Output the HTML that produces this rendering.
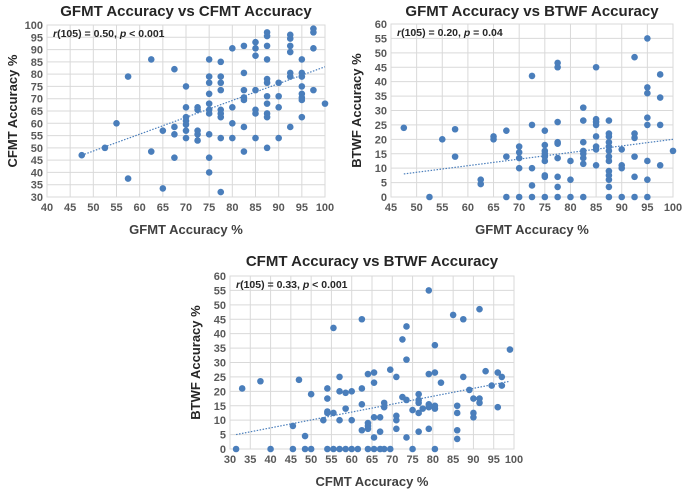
<!DOCTYPE html>
<html><head><meta charset="utf-8"><style>
body{margin:0;background:#fff;width:685px;height:492px;overflow:hidden;font-family:"Liberation Sans",sans-serif}
svg text{font-family:"Liberation Sans",sans-serif}
</style></head><body>
<svg id="s" width="685" height="492"></svg>
<script>
const c1x=[47.5,52.5,55,57.5,57.5,62.5,62.5,65,65,67.5,67.5,67.5,67.5,70,70,70,70,70,70,70,72.5,72.5,72.5,72.5,72.5,75,75,75,75,75,75,75,75,75,75,77.5,77.5,77.5,77.5,77.5,77.5,77.5,77.5,77.5,80,80,80,80,82.5,82.5,82.5,82.5,82.5,82.5,82.5,85,85,85,85,85,85,85,87.5,87.5,87.5,87.5,87.5,87.5,87.5,87.5,87.5,87.5,87.5,90,90,90,90,92.5,92.5,92.5,92.5,92.5,92.5,92.5,95,95,95,95,95,95,95,95,97.5,97.5,97.5,97.5,100];
const c1y=[47,50,60,79,37.5,86,48.5,57,33.5,82,58.5,55.5,46,75,66.5,62.5,61,59.5,57,54,66.5,65.5,57,55.5,53,86,79,76.5,72,68,65.5,64,55.5,46,40,85,79,76.5,73.5,65.5,64,62.5,54,32,90.5,66.5,60,54,91.5,80.5,73.5,70.5,69.5,58.5,48.5,93,90.5,87.5,73.5,65.5,64,54,97,95.5,91.5,86,78,76.5,71,68,64,62.5,50,76.5,71,66.5,54,96,94.5,91.5,89,80.5,79,58.5,86,80.5,79,75,72,70.5,69.5,62.5,98.5,97,90.5,73.5,68];
const c2x=[47.5,52.5,55,57.5,57.5,62.5,62.5,65,65,67.5,67.5,67.5,70,70,70,70,70,72.5,72.5,72.5,72.5,72.5,75,75,75,75,75,75,75,75,75,77.5,77.5,77.5,77.5,77.5,77.5,77.5,77.5,77.5,80,80,80,82.5,82.5,82.5,82.5,82.5,82.5,82.5,82.5,85,85,85,85,85,85,85,85,87.5,87.5,87.5,87.5,87.5,87.5,87.5,87.5,87.5,87.5,87.5,87.5,87.5,90,90,90,90,92.5,92.5,92.5,92.5,92.5,92.5,95,95,95,95,95,95,95,95,97.5,97.5,97.5,97.5,100];
const c2y=[24,0,20,23.5,14,6,4.5,21,20,23,14,0,17.5,15.5,13.5,10,0,42,25,10,4,0,23,18,16,15,14,12.5,7.5,7,0,46.5,45,26,19,18.5,13.5,7,3.5,0,12.5,6,0,31,26.5,19,16,15,13.5,11.5,0,45,27,26,25,21,17.5,16.5,11,26.5,22,21,19,17.5,16,14,12.5,9,7.5,6,3.5,0,16.5,11,10,0,48.5,22,20.5,14,7,0,55,38,36,27.5,25,12.5,6,0,42.5,34.5,25,11,16];
const c3x=[31.5,33,37.5,40,45.5,45.5,47,48.5,48.5,50,50,53,54,54,54,54,54,55.5,55.5,55.5,57,57,57,57,58.5,58.5,58.5,60,60,60,61.5,62.5,62.5,62.5,62.5,64,64,64,64,64,65.5,65.5,65.5,65.5,65.5,67,67,67,68,68,68,69.5,69.5,71,71,71,71,72.5,72.5,73.5,73.5,73.5,73.5,75,75,76.5,76.5,76.5,76.5,76.5,77.5,79,79,79,79,79,80.5,80.5,80.5,80.5,80.5,82,85,86,86,86,86,87.5,87.5,89,90,90,90,91.5,91.5,91.5,93,94.5,96,96,97,97,99];
const c3y=[0,21,23.5,0,8,0,24,4.5,0,19,0,10,21,17.5,13,12.5,0,42,12.5,0,25,20,10,0,19.5,14,0,20,10,0,0,45,21,15.5,6.5,26,9,8,7,0,26.5,23,11,4,0,11,6,0,16,14.5,0,27.5,0,25,11.5,10,7,38,18,42.5,31,17,4,13.5,0,19,17,16,12.5,6,14,55,26,15.5,14.5,7,36,26.5,15,14,0,23,46.5,15,12.5,6.5,3.5,45,25,20.5,17.5,12.5,11,48.5,17.5,16,27,22,26.5,14.5,25,22,34.5];
const t1=[[47.5,47],[100,83]], t2=[[47.5,8],[100,20]], t3=[[31.5,5],[99,23.5]];
const NS="http://www.w3.org/2000/svg", svg=document.getElementById('s');
function el(t,a,p){const e=document.createElementNS(NS,t);for(const k in a)e.setAttribute(k,a[k]);(p||svg).appendChild(e);return e;}
function chart(o){
 const g=el('g',{});
 
 
 const X=v=>o.L+(v-o.x0)/(o.x1-o.x0)*(o.R-o.L), Y=v=>o.B-(v-o.y0)/(o.y1-o.y0)*(o.B-o.T);
 for(let v=o.x0;v<=o.x1;v+=5){el('line',{x1:X(v),x2:X(v),y1:o.T,y2:o.B,stroke:'#d9d9d9','stroke-width':1},g);
  const t=el('text',{x:X(v),y:o.B+14,'text-anchor':'middle','font-size':11,'font-weight':'bold',fill:'#595959'},g);t.textContent=v;
  }
 for(let v=o.y0;v<=o.y1;v+=5){el('line',{x1:o.L,x2:o.R,y1:Y(v),y2:Y(v),stroke:'#d9d9d9','stroke-width':1},g);
  const t=el('text',{x:o.L-4,y:Y(v)+4,'text-anchor':'end','font-size':11,'font-weight':'bold',fill:'#595959'},g);t.textContent=v;
  }
 el('rect',{x:o.L,y:o.T,width:o.R-o.L,height:o.B-o.T,fill:'none',stroke:'#d9d9d9'},g);
 for(let i=0;i<o.xs.length;i++){const c=el('circle',{cx:X(o.xs[i]),cy:Y(o.ys[i]),r:3.3,fill:'#4a7ebb'},g);
  }
 const l=el('line',{x1:X(o.tr[0][0]),y1:Y(o.tr[0][1]),x2:X(o.tr[1][0]),y2:Y(o.tr[1][1]),stroke:'#4a7ebb','stroke-width':1.2,'stroke-dasharray':'1.5,1.5'},g);
 
 const tt=el('text',{x:(o.L+o.R)/2,y:o.ty,'text-anchor':'middle','font-size':15,'font-weight':'bold',fill:'#262626'},g);tt.textContent=o.title;
 
 const xt=el('text',{x:(o.L+o.R)/2,y:o.xty,'text-anchor':'middle','font-size':13,'font-weight':'bold',fill:'#404040'},g);xt.textContent=o.xt;
 
 const cy=(o.T+o.B)/2;
 const yt=el('text',{x:o.ytx,y:cy,'text-anchor':'middle','font-size':13,'font-weight':'bold',fill:'#262626',transform:`rotate(-90 ${o.ytx} ${cy})`},g);yt.textContent=o.yt;
 
 const an=el('text',{x:o.L+6,y:o.T+12,'font-size':10.5,'font-weight':'bold',fill:'#262626'},g);
 an.innerHTML=o.ann;
 
}
chart({name:'gfmt-vs-cfmt-chart',L:47,R:325,T:25,B:197,x0:40,x1:100,y0:30,y1:100,xs:c1x,ys:c1y,tr:t1,ty:16,title:'GFMT Accuracy vs CFMT Accuracy',xty:234,xt:'GFMT Accuracy %',ytx:17,yt:'CFMT Accuracy %',ann:'<tspan font-style="italic">r</tspan>(105) = 0.50, <tspan font-style="italic">p</tspan> &lt; 0.001'});
chart({name:'gfmt-vs-btwf-chart',L:391,R:673,T:24,B:197,x0:45,x1:100,y0:0,y1:60,xs:c2x,ys:c2y,tr:t2,ty:16,title:'GFMT Accuracy vs BTWF Accuracy',xty:234,xt:'GFMT Accuracy %',ytx:361,yt:'BTWF Accuracy %',ann:'<tspan font-style="italic">r</tspan>(105) = 0.20, <tspan font-style="italic">p</tspan> = 0.04'});
chart({name:'cfmt-vs-btwf-chart',L:230,R:514,T:276,B:449,x0:30,x1:100,y0:0,y1:60,xs:c3x,ys:c3y,tr:t3,ty:266,title:'CFMT Accuracy vs BTWF Accuracy',xty:486,xt:'CFMT Accuracy %',ytx:200,yt:'BTWF Accuracy %',ann:'<tspan font-style="italic">r</tspan>(105) = 0.33, <tspan font-style="italic">p</tspan> &lt; 0.001'});
</script>
</body></html>
